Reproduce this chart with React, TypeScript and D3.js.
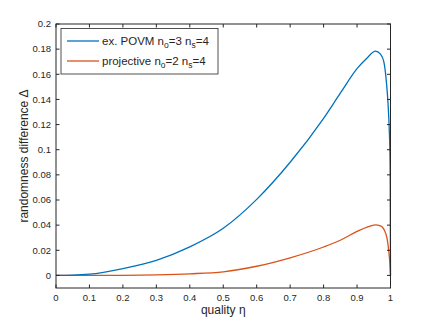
import React from 'react';
import * as d3 from 'd3';

// quality η sample points and randomness difference Δ
const etaBlue = [0, 0.05, 0.1, 0.2, 0.3, 0.4, 0.5, 0.6, 0.7, 0.8, 0.85, 0.9, 0.93, 0.955, 0.97, 0.98, 0.988, 0.993, 0.996, 0.998, 0.999, 1];
const deltaBlue = [0, 0.0002, 0.001, 0.0055, 0.012, 0.0227, 0.0375, 0.0605, 0.09, 0.125, 0.145, 0.1645, 0.173, 0.1785, 0.176, 0.17, 0.153, 0.135, 0.118, 0.1, 0.08, 0];

const etaOrange = [0, 0.1, 0.2, 0.3, 0.4, 0.5, 0.6, 0.7, 0.8, 0.85, 0.9, 0.93, 0.955, 0.97, 0.98, 0.99, 0.995, 0.998, 1];
const deltaOrange = [0, 0.00002, 0.0001, 0.0005, 0.0013, 0.0029, 0.0073, 0.014, 0.0226, 0.028, 0.035, 0.0385, 0.0402, 0.0395, 0.0368, 0.029, 0.019, 0.01, 0];

const xTicks = [0, 0.1, 0.2, 0.3, 0.4, 0.5, 0.6, 0.7, 0.8, 0.9, 1];
const yTicks = [0, 0.02, 0.04, 0.06, 0.08, 0.1, 0.12, 0.14, 0.16, 0.18, 0.2];

const seriesNames = ['ex. POVM', 'projective'];
const seriesNo = ['3', '2'];
const seriesNs = ['4', '4'];
const colors = ['#0072BD', '#D95319'];

export default function App() {
  const W = 432;
  const H = 325;
  const left = 56;
  const right = 390.5;
  const top = 24;
  const bottom = 288;

  const x = d3.scaleLinear().domain([0, 1]).range([left, right]);
  const y = d3.scaleLinear().domain([-0.01, 0.2]).range([bottom, top]);

  const line = d3
    .line<[number, number]>()
    .x(d => x(d[0]))
    .y(d => y(d[1]))
    .curve(d3.curveMonotoneX);

  const blue = etaBlue.map((e, i) => [e, deltaBlue[i]] as [number, number]);
  const orange = etaOrange.map((e, i) => [e, deltaOrange[i]] as [number, number]);

  const axisColor = '#262626';
  const font = '"Liberation Sans", Arial, Helvetica, sans-serif';
  const tickLen = 3.5;

  return (
    <svg
      width={W}
      height={H}
      style={{ position: 'absolute', left: 0, top: 0, background: '#fff' }}
      fontFamily={font}
    >
      {/* curves */}
      <path d={line(orange) || ''} fill="none" stroke={colors[1]} strokeWidth={1.3} />
      <path d={line(blue) || ''} fill="none" stroke={colors[0]} strokeWidth={1.3} />

      {/* axes box */}
      <rect x={left} y={top} width={right - left} height={bottom - top} fill="none" stroke={axisColor} strokeWidth={1} />

      {xTicks.map(t => (
        <g key={'x' + t}>
          <line x1={x(t)} x2={x(t)} y1={bottom} y2={bottom - tickLen} stroke={axisColor} />
          <line x1={x(t)} x2={x(t)} y1={top} y2={top + tickLen} stroke={axisColor} />
          <text x={x(t)} y={bottom + 13} fontSize={9.5} textAnchor="middle" fill={axisColor}>
            {d3.format('~g')(t)}
          </text>
        </g>
      ))}
      {yTicks.map(t => (
        <g key={'y' + t}>
          <line x1={left} x2={left + tickLen} y1={y(t)} y2={y(t)} stroke={axisColor} />
          <line x1={right} x2={right - tickLen} y1={y(t)} y2={y(t)} stroke={axisColor} />
          <text x={left - 5} y={y(t) + 3.3} fontSize={9.5} textAnchor="end" fill={axisColor}>
            {d3.format('~g')(t)}
          </text>
        </g>
      ))}

      <text x={(left + right) / 2} y={314} fontSize={12} textAnchor="middle" fill={axisColor}>
        quality η
      </text>
      <text
        transform={`translate(28,${(top + bottom) / 2}) rotate(-90)`}
        fontSize={12}
        textAnchor="middle"
        fill={axisColor}
      >
        randomness difference Δ
      </text>

      {/* legend */}
      <rect x={61} y={28.5} width={157} height={45.5} fill="#fff" stroke={axisColor} strokeWidth={0.8} />
      {seriesNames.map((name, i) => {
        const ly = 41 + i * 20;
        return (
          <g key={name}>
            <line x1={67} x2={99} y1={ly} y2={ly} stroke={colors[i]} strokeWidth={1.3} />
            <text x={102} y={ly + 3.5} fontSize={11.5} fill={axisColor}>
              {name} n
              <tspan dy={3.5} fontSize={8.5}>o</tspan>
              <tspan dy={-3.5}>={seriesNo[i]} n</tspan>
              <tspan dy={3.5} fontSize={8.5}>s</tspan>
              <tspan dy={-3.5}>={seriesNs[i]}</tspan>
            </text>
          </g>
        );
      })}
    </svg>
  );
}
